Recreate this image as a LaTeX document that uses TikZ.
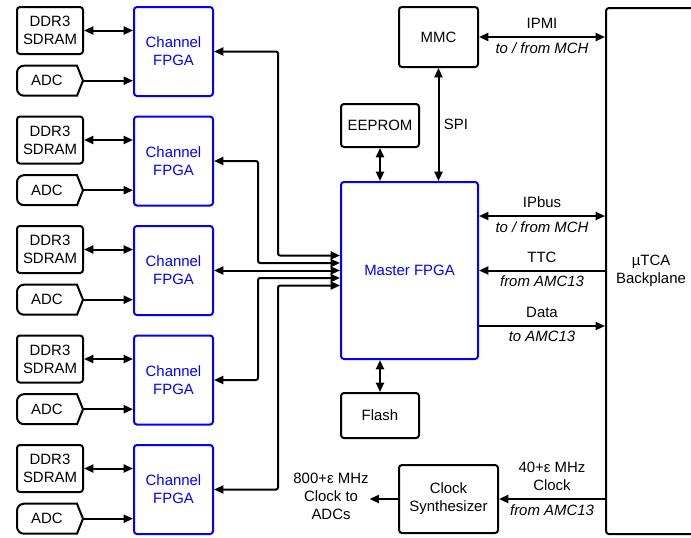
\documentclass[tikz,border=0pt]{standalone}
\usepackage{fontspec}
\setmainfont{Liberation Sans}
\usetikzlibrary{positioning,arrows.meta,calc}
\definecolor{FpgaC}{HTML}{0000FF}

\begin{document}
\begin{tikzpicture}[x=0.75pt,y=-0.75pt,line width=1.5pt,
  font=\fontsize{11.2}{13.5}\selectfont,
  box/.style={draw,rounded corners=2.2pt,align=center,inner sep=0pt},
  fpga/.style={box,draw=FpgaC,text=FpgaC},
  wire/.style={-{Triangle[length=7pt,width=6pt]},rounded corners=1.6pt},
  dwire/.style={{Triangle[length=7pt,width=6pt]}-{Triangle[length=7pt,width=6pt]},rounded corners=1.6pt},
  note/.style={font=\fontsize{11.2}{13.5}\selectfont\itshape}]
\useasboundingbox (0,0) rectangle (691,537);

% ---------- channel blocks ----------
\foreach \i in {1,...,5}{
  \pgfmathsetmacro\yy{(\i-1)*109.5}
  \node[box,minimum width=49.5pt,minimum height=35.25pt] (ddr\i) at (50,30.5+\yy) {DDR3\\SDRAM};
  \node[inner sep=0pt] (adc\i) at (47,80.7+\yy) {ADC};
  \draw ($(adc\i)+(30,-15)$) -- ($(adc\i)+(-23,-15)$)
    arc[start angle=90,end angle=180,radius=5.25pt] -- ($(adc\i)+(-30,8)$)
    arc[start angle=180,end angle=270,radius=5.25pt] -- ($(adc\i)+(30,15)$)
    -- ($(adc\i)+(36,0)$) -- cycle;
  \coordinate (adct\i) at ($(adc\i)+(36,0)$);
  \node[fpga,minimum width=59.25pt,minimum height=66.75pt] (chan\i) at (173.5,51.5+\yy) {Channel\\FPGA};
  \draw[dwire] (ddr\i.east) -- (ddr\i.east -| chan\i.west);
  \draw[wire] (adct\i) -- (adct\i -| chan\i.west);
}

% ---------- master and neighbours ----------
\node[fpga,minimum width=102.75pt,minimum height=132.75pt] (master) at (409.5,270.5) {Master FPGA};
\node[box,minimum width=59.25pt,minimum height=45pt] (mmc) at (438.5,37) {MMC};
\node[box,minimum width=58.5pt,minimum height=32.25pt] (eeprom) at (380,125.5) {EEPROM};
\node[box,minimum width=58.5pt,minimum height=33.75pt] (flash) at (380,415.5) {Flash};
\node[box,minimum width=74.25pt,minimum height=51pt] (synth) at (448.5,499) {Clock\\Synthesizer};
\node[box,minimum width=67.5pt,minimum height=394.5pt] (bp) at (651,271) {µTCA\\Backplane};
\node[inner sep=0pt,align=center] (adcclk) at (331,496) {800+ε MHz\\Clock to\\ADCs};

% channels into master
\draw[dwire] (chan3.east) -- (master.west);
\foreach \i/\dx/\dy in {1/64/-15,2/44/-7.5,4/44/7.5,5/64/15}
  \draw[dwire] (chan\i.east) -- ++(\dx,0) |- ($(master.west)+(0,\dy)$);

\draw[dwire] (mmc.south) -- (mmc.south |- master.north) node[midway,right]{SPI};
\draw[dwire] (eeprom.south) -- (eeprom.south |- master.north);
\draw[dwire] (flash.north) -- (flash.north |- master.south);

% ---------- backplane links ----------
\coordinate (ipb) at ($(master.north east)+(0,35)$);
\coordinate (dat) at ($(master.south east)+(0,-34)$);
\draw[dwire] (mmc.east) -- (mmc.east -| bp.west)
  node[midway,above=2pt]{IPMI} node[midway,below,note]{to / from MCH};
\draw[dwire] (ipb) -- (ipb -| bp.west)
  node[midway,above=2pt]{IPbus} node[midway,below,note]{to / from MCH};
\draw[wire] (master.east -| bp.west) -- (master.east)
  node[midway,above=2pt]{TTC} node[midway,below,note]{from AMC13};
\draw[wire] (dat) -- (dat -| bp.west)
  node[midway,above=2pt]{Data} node[midway,below,note]{to AMC13};
\draw[wire] (synth.east -| bp.west) -- (synth.east)
  node[midway,above=2pt,align=center]{40+ε MHz\\Clock} node[midway,below,note]{from AMC13};
\draw[wire] (synth.west) -- (synth.west -| adcclk.east);
\end{tikzpicture}
\end{document}
